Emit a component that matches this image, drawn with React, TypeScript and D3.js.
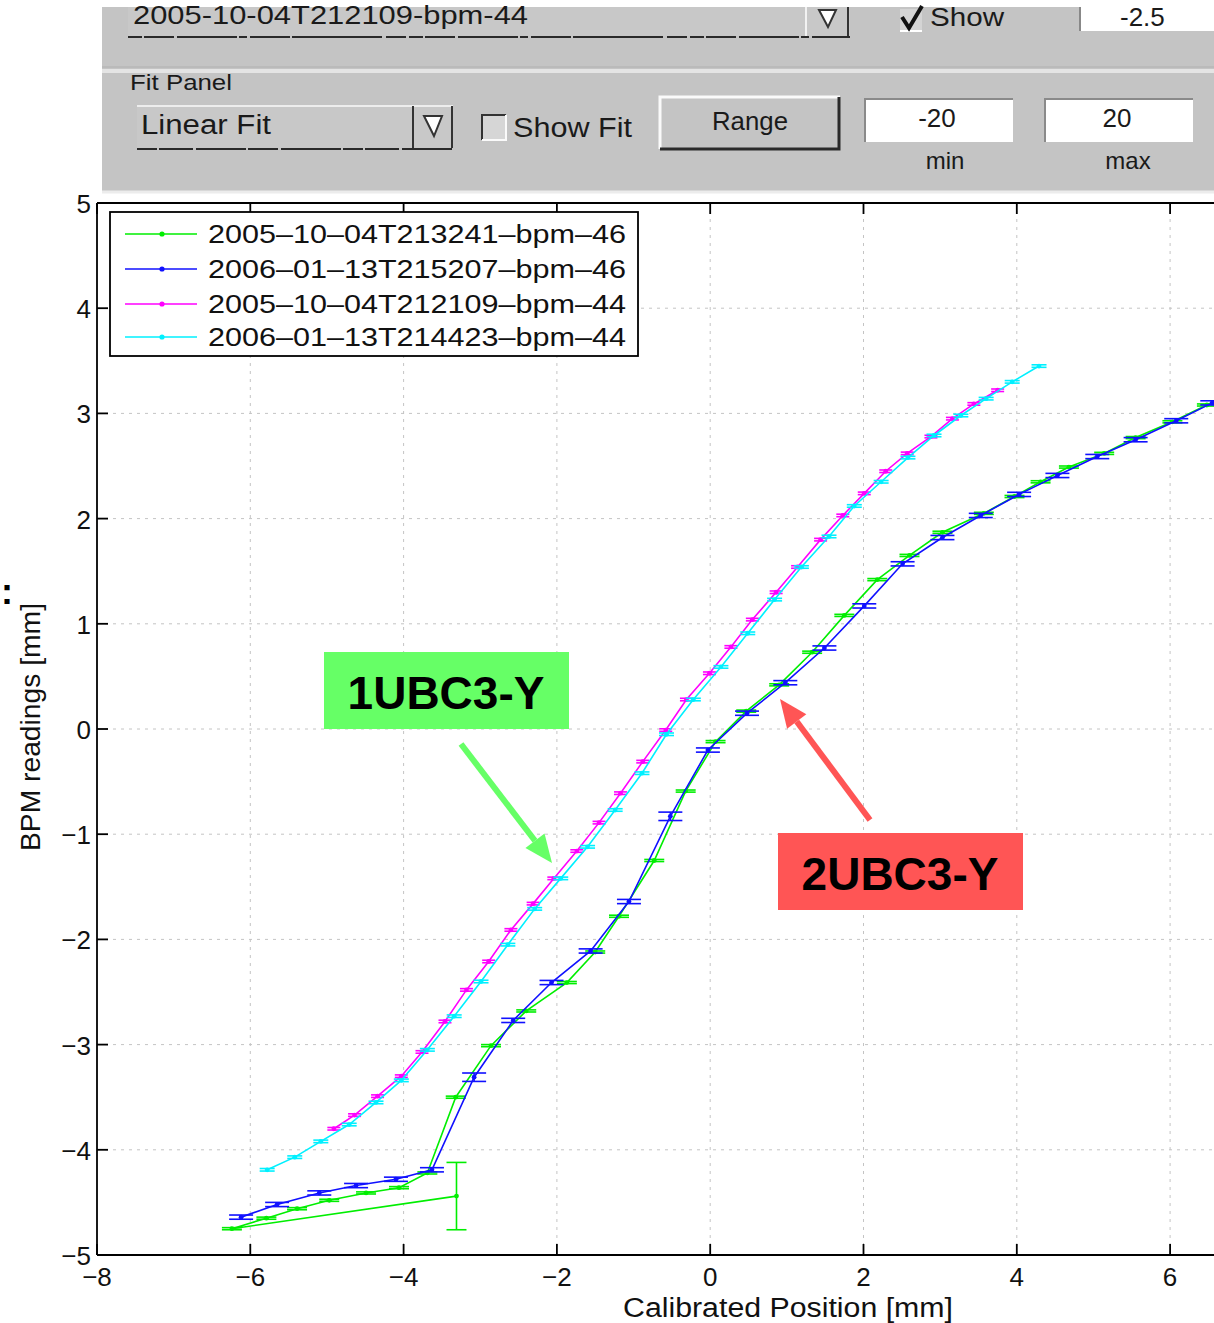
import React from 'react';
import * as d3 from 'd3';

const W = 1214;
const H = 1323;

// ---- Series: calibrated position (mm) vs BPM reading (mm) ----
const green46X = [-3.31, -6.24, -5.79, -5.39, -4.97, -4.49, -4.06, -3.69, -3.32, -2.86, -2.40, -1.87, -1.50, -1.19, -0.73, -0.32, 0.07, 0.47, 0.90, 1.33, 1.75, 2.18, 2.60, 3.03, 3.57, 3.97, 4.31, 4.68, 5.14, 5.55, 6.03, 6.48, 6.95];
const green46Y = [-4.44, -4.75, -4.65, -4.56, -4.48, -4.41, -4.36, -4.22, -3.50, -3.01, -2.68, -2.41, -2.12, -1.78, -1.25, -0.59, -0.12, 0.17, 0.42, 0.73, 1.08, 1.42, 1.65, 1.87, 2.05, 2.21, 2.35, 2.49, 2.62, 2.77, 2.92, 3.08, 3.25];
const green46E = [0.32, 0.01, 0.01, 0.01, 0.01, 0.01, 0.01, 0.01, 0.01, 0.01, 0.01, 0.01, 0.01, 0.01, 0.01, 0.01, 0.01, 0.01, 0.01, 0.01, 0.01, 0.01, 0.01, 0.01, 0.01, 0.01, 0.01, 0.01, 0.01, 0.01, 0.01, 0.01, 0.01];

const blue46X = [-6.12, -5.65, -5.10, -4.62, -4.10, -3.63, -3.08, -2.57, -2.07, -1.56, -1.06, -0.52, -0.03, 0.48, 0.98, 1.49, 2.01, 2.51, 3.03, 3.53, 4.03, 4.53, 5.05, 5.55, 6.08, 6.55, 7.05];
const blue46Y = [-4.64, -4.52, -4.41, -4.34, -4.28, -4.19, -3.31, -2.77, -2.41, -2.11, -1.64, -0.83, -0.20, 0.15, 0.44, 0.77, 1.17, 1.57, 1.82, 2.03, 2.23, 2.41, 2.59, 2.75, 2.93, 3.10, 3.27];
const blue46E = [0.02, 0.02, 0.02, 0.02, 0.02, 0.02, 0.04, 0.02, 0.02, 0.02, 0.02, 0.04, 0.02, 0.02, 0.02, 0.02, 0.02, 0.02, 0.02, 0.02, 0.02, 0.02, 0.02, 0.02, 0.02, 0.02, 0.02];

const magenta44X = [-4.91, -4.64, -4.34, -4.03, -3.76, -3.46, -3.18, -2.89, -2.60, -2.31, -2.04, -1.74, -1.45, -1.17, -0.88, -0.58, -0.31, -0.01, 0.27, 0.55, 0.86, 1.14, 1.44, 1.73, 2.01, 2.29, 2.57, 2.88, 3.16, 3.44, 3.75];
const magenta44Y = [-3.80, -3.67, -3.49, -3.30, -3.07, -2.78, -2.48, -2.21, -1.91, -1.66, -1.42, -1.16, -0.89, -0.61, -0.31, -0.01, 0.28, 0.53, 0.78, 1.04, 1.30, 1.54, 1.80, 2.03, 2.24, 2.45, 2.62, 2.78, 2.95, 3.09, 3.22];

const cyan44X = [-5.78, -5.42, -5.08, -4.71, -4.36, -4.03, -3.69, -3.34, -2.99, -2.64, -2.29, -1.95, -1.60, -1.24, -0.89, -0.57, -0.22, 0.14, 0.49, 0.84, 1.19, 1.55, 1.88, 2.23, 2.58, 2.92, 3.27, 3.60, 3.94, 4.29];
const cyan44Y = [-4.19, -4.07, -3.92, -3.76, -3.55, -3.34, -3.05, -2.73, -2.40, -2.05, -1.71, -1.42, -1.12, -0.77, -0.42, -0.05, 0.28, 0.59, 0.91, 1.23, 1.54, 1.83, 2.12, 2.35, 2.58, 2.79, 2.98, 3.14, 3.30, 3.45];

const seriesNames = [
  '2005\u201310\u201304T213241\u2013bpm\u201346',
  '2006\u201301\u201313T215207\u2013bpm\u201346',
  '2005\u201310\u201304T212109\u2013bpm\u201344',
  '2006\u201301\u201313T214423\u2013bpm\u201344',
];
const seriesColors = ['#00ee00', '#1010ff', '#ff00ff', '#00f0ff'];

const xTicks = [-8, -6, -4, -2, 0, 2, 4, 6];
const yTicks = [-5, -4, -3, -2, -1, 0, 1, 2, 3, 4, 5];

const fmt = (v: number) => (v < 0 ? '\u2212' + Math.abs(v) : String(v));

const FONT = '"Liberation Sans", Arial, Helvetica, sans-serif';

function ErrSeries({ xs, ys, es, color, cap, xS, yS }: any) {
  const pts = xs.map((x: number, i: number) => [x, ys[i]] as [number, number]);
  const line = d3.line<[number, number]>().x(d => xS(d[0])).y(d => yS(d[1]));
  return (
    <g>
      <path d={line(pts) || ''} fill="none" stroke={color} strokeWidth={1.6} />
      {pts.map((p, i) => {
        const e = es ? es[i] : 0.012;
        const cx = xS(p[0]);
        const y1 = yS(p[1] + e);
        const y2 = yS(p[1] - e);
        return (
          <g key={i} stroke={color} strokeWidth={1.6}>
            <line x1={cx} x2={cx} y1={y1} y2={y2} />
            <line x1={cx - cap / 2} x2={cx + cap / 2} y1={y1} y2={y1} />
            <line x1={cx - cap / 2} x2={cx + cap / 2} y1={y2} y2={y2} />
            <circle cx={cx} cy={yS(p[1])} r={2.4} fill={color} stroke="none" />
          </g>
        );
      })}
    </g>
  );
}

function Arrow({ x1, y1, x2, y2, color }: any) {
  const ang = Math.atan2(y2 - y1, x2 - x1);
  const len = 28;
  const half = 12;
  const bx = x2 - len * Math.cos(ang);
  const by = y2 - len * Math.sin(ang);
  const px = -Math.sin(ang) * half;
  const py = Math.cos(ang) * half;
  return (
    <g>
      <line x1={x1} y1={y1} x2={bx} y2={by} stroke={color} strokeWidth={6} />
      <polygon points={`${x2},${y2} ${bx + px},${by + py} ${bx - px},${by - py}`} fill={color} />
    </g>
  );
}

export default function App() {
  const left = 97, right = 97 + 16 * 76.65, top = 203, bottom = 1255;
  const xS = d3.scaleLinear().domain([-8, 8]).range([left, right]);
  const yS = d3.scaleLinear().domain([-5, 5]).range([bottom, top]);

  const panel = '#c4c4c4';
  const legendY = [234, 269, 304, 337];

  return (
    <svg width={W} height={H} style={{ position: 'absolute', left: 0, top: 0, background: '#fff' }} fontFamily={FONT}>
      <defs>
        <clipPath id="plotArea">
          <rect x={left} y={top} width={right - left} height={bottom - top} />
        </clipPath>
      </defs>
      <rect x={0} y={0} width={W} height={H} fill="#fff" />

      {/* control panel */}
      <rect x={102} y={7} width={W - 102} height={184} fill={panel} />
      <line x1={102} x2={W} y1={67} y2={67} stroke="#b0b0b0" strokeWidth={1} />
      <line x1={102} x2={W} y1={71} y2={71} stroke="#e4e4e4" strokeWidth={4} />
      <line x1={102} x2={W} y1={192} y2={192} stroke="#ececec" strokeWidth={3} />

      {/* top popup */}
      <rect x={128} y={7} width={722} height={29} fill="#c8c8c8" />
      <line x1={128} x2={850} y1={37} y2={37} stroke="#2a2a2a" strokeWidth={2} strokeDasharray="14,2,30,3,60,2,8,3,40,2,90,4,20,3" />
      <text x={133} y={24} fontSize={26} fill="#1a1a1a" textLength={395} lengthAdjust="spacingAndGlyphs">2005-10-04T212109-bpm-44</text>
      <line x1={806} x2={806} y1={7} y2={36} stroke="#f2f2f2" strokeWidth={2} />
      <line x1={848} x2={848} y1={7} y2={36} stroke="#333" strokeWidth={2} />
      <polygon points="819,10 836,10 828,27" fill="#fff" stroke="#333" strokeWidth={2} />

      {/* Show checkbox */}
      <rect x={900} y={9} width={22} height={22} fill="#d4d4d4" />
      <line x1={900} x2={922} y1={31} y2={31} stroke="#fff" strokeWidth={2} />
      <path d="M902,17 L909,28 L922,6" fill="none" stroke="#111" strokeWidth={4} />
      <text x={930} y={26} fontSize={26} fill="#1a1a1a" textLength={74} lengthAdjust="spacingAndGlyphs">Show</text>

      {/* top edit box */}
      <rect x={1080} y={7} width={134} height={24} fill="#fff" />
      <line x1={1080} x2={1080} y1={7} y2={31} stroke="#888" strokeWidth={2} />
      <text x={1120} y={26} fontSize={26} fill="#1a1a1a">-2.5</text>

      <text x={130} y={90} fontSize={22} fill="#1a1a1a" textLength={102} lengthAdjust="spacingAndGlyphs">Fit Panel</text>

      {/* fit type popup */}
      <rect x={137} y={106} width={316} height={42} fill="#c8c8c8" />
      <line x1={137} x2={453} y1={106} y2={106} stroke="#ededed" strokeWidth={2} />
      <line x1={137} x2={453} y1={149} y2={149} stroke="#2a2a2a" strokeWidth={2} strokeDasharray="20,2,34,3,50,2,30,3,60,2" />
      <text x={141} y={134} fontSize={27} fill="#1a1a1a" textLength={130} lengthAdjust="spacingAndGlyphs">Linear Fit</text>
      <line x1={413} x2={413} y1={106} y2={148} stroke="#333" strokeWidth={2} />
      <line x1={452} x2={452} y1={106} y2={148} stroke="#333" strokeWidth={2} />
      <polygon points="424,116 442,116 434,136" fill="#fff" stroke="#333" strokeWidth={2} />

      {/* Show Fit checkbox */}
      <rect x={482} y={115} width={24} height={25} fill="#d6d6d6" />
      <path d="M482,140 L482,115 L506,115" fill="none" stroke="#333" strokeWidth={2} />
      <path d="M482,140 L506,140 L506,115" fill="none" stroke="#fafafa" strokeWidth={2} />
      <text x={513} y={137} fontSize={27} fill="#1a1a1a" textLength={119} lengthAdjust="spacingAndGlyphs">Show Fit</text>

      {/* Range button */}
      <rect x={660} y={97} width={180} height={53} fill={panel} />
      <path d="M660,149 L660,97 L840,97" fill="none" stroke="#fafafa" strokeWidth={3} />
      <path d="M660,149 L839,149 L839,97" fill="none" stroke="#2a2a2a" strokeWidth={3} />
      <text x={750} y={130} fontSize={26} fill="#1a1a1a" textAnchor="middle" textLength={76} lengthAdjust="spacingAndGlyphs">Range</text>

      {/* min / max edit boxes */}
      <rect x={865} y={99} width={148} height={43} fill="#fff" />
      <path d="M865,142 L865,99 L1013,99" fill="none" stroke="#8a8a8a" strokeWidth={2} />
      <text x={937} y={127} fontSize={26} fill="#1a1a1a" textAnchor="middle">-20</text>
      <rect x={1045} y={99} width={148} height={43} fill="#fff" />
      <path d="M1045,142 L1045,99 L1193,99" fill="none" stroke="#8a8a8a" strokeWidth={2} />
      <text x={1117} y={127} fontSize={26} fill="#1a1a1a" textAnchor="middle">20</text>
      <text x={945} y={169} fontSize={24} fill="#1a1a1a" textAnchor="middle">min</text>
      <text x={1128} y={169} fontSize={24} fill="#1a1a1a" textAnchor="middle">max</text>

      {/* grid */}
      <g stroke="#c4c4c4" strokeWidth={1} strokeDasharray="3,5">
        {xTicks.filter(t => t > -8 && t < 8).map(t => (
          <line key={'gx' + t} x1={xS(t)} x2={xS(t)} y1={top} y2={bottom} />
        ))}
        {yTicks.filter(t => t > -5 && t < 5).map(t => (
          <line key={'gy' + t} x1={left} x2={right} y1={yS(t)} y2={yS(t)} />
        ))}
      </g>

      {/* data */}
      <g clipPath="url(#plotArea)">
        <ErrSeries xs={green46X} ys={green46Y} es={green46E} color={seriesColors[0]} cap={20} xS={xS} yS={yS} />
        <ErrSeries xs={blue46X} ys={blue46Y} es={blue46E} color={seriesColors[1]} cap={24} xS={xS} yS={yS} />
        <ErrSeries xs={magenta44X} ys={magenta44Y} es={null} color={seriesColors[2]} cap={13} xS={xS} yS={yS} />
        <ErrSeries xs={cyan44X} ys={cyan44Y} es={null} color={seriesColors[3]} cap={15} xS={xS} yS={yS} />
      </g>

      {/* axes box and ticks */}
      <g stroke="#000" strokeWidth={1.8}>
        <line x1={left} x2={left} y1={top} y2={bottom} />
        <line x1={left} x2={right} y1={bottom} y2={bottom} />
        <line x1={left} x2={right} y1={top} y2={top} />
        {xTicks.map(t => (
          <g key={'tx' + t}>
            <line x1={xS(t)} x2={xS(t)} y1={bottom} y2={bottom - 11} />
            <line x1={xS(t)} x2={xS(t)} y1={top} y2={top + 11} />
          </g>
        ))}
        {yTicks.map(t => (
          <line key={'ty' + t} x1={left} x2={left + 11} y1={yS(t)} y2={yS(t)} />
        ))}
      </g>
      <g fontSize={26} fill="#111">
        {xTicks.map(t => (
          <text key={'lx' + t} x={xS(t)} y={bottom + 31} textAnchor="middle">{fmt(t)}</text>
        ))}
        {yTicks.map(t => (
          <text key={'ly' + t} x={left - 6} y={yS(t) + 10} textAnchor="end">{fmt(t)}</text>
        ))}
      </g>
      <text x={788} y={1317} fontSize={27} fill="#111" textAnchor="middle" textLength={330} lengthAdjust="spacingAndGlyphs">Calibrated Position [mm]</text>
      <text transform="translate(40,727) rotate(-90)" fontSize={28} fill="#111" textAnchor="middle" textLength={248} lengthAdjust="spacingAndGlyphs">BPM readings [mm]</text>

      {/* legend */}
      <rect x={110} y={212} width={528} height={144} fill="#fff" stroke="#000" strokeWidth={1.8} />
      {seriesNames.map((name, i) => (
        <g key={name}>
          <line x1={125} x2={197} y1={legendY[i]} y2={legendY[i]} stroke={seriesColors[i]} strokeWidth={1.6} />
          <circle cx={162} cy={legendY[i]} r={2.6} fill={seriesColors[i]} />
          <text x={208} y={legendY[i] + 9} fontSize={25} fill="#111" textLength={418} lengthAdjust="spacingAndGlyphs">{name}</text>
        </g>
      ))}

      {/* annotations */}
      <rect x={324} y={652} width={245} height={77} fill="#66ff66" />
      <text x={446} y={709} fontSize={46} fontWeight="bold" fill="#000" textAnchor="middle">1UBC3-Y</text>
      <Arrow x1={461} y1={744} x2={552} y2={863} color="#66ff66" />
      <rect x={778} y={833} width={245} height={77} fill="#ff5555" />
      <text x={900} y={890} fontSize={46} fontWeight="bold" fill="#000" textAnchor="middle">2UBC3-Y</text>
      <Arrow x1={870} y1={820} x2={780} y2={699} color="#ff5555" />

      {/* colon at the left margin */}
      <text x={1} y={604} fontSize={36} fontWeight="bold" fill="#000">:</text>
    </svg>
  );
}
